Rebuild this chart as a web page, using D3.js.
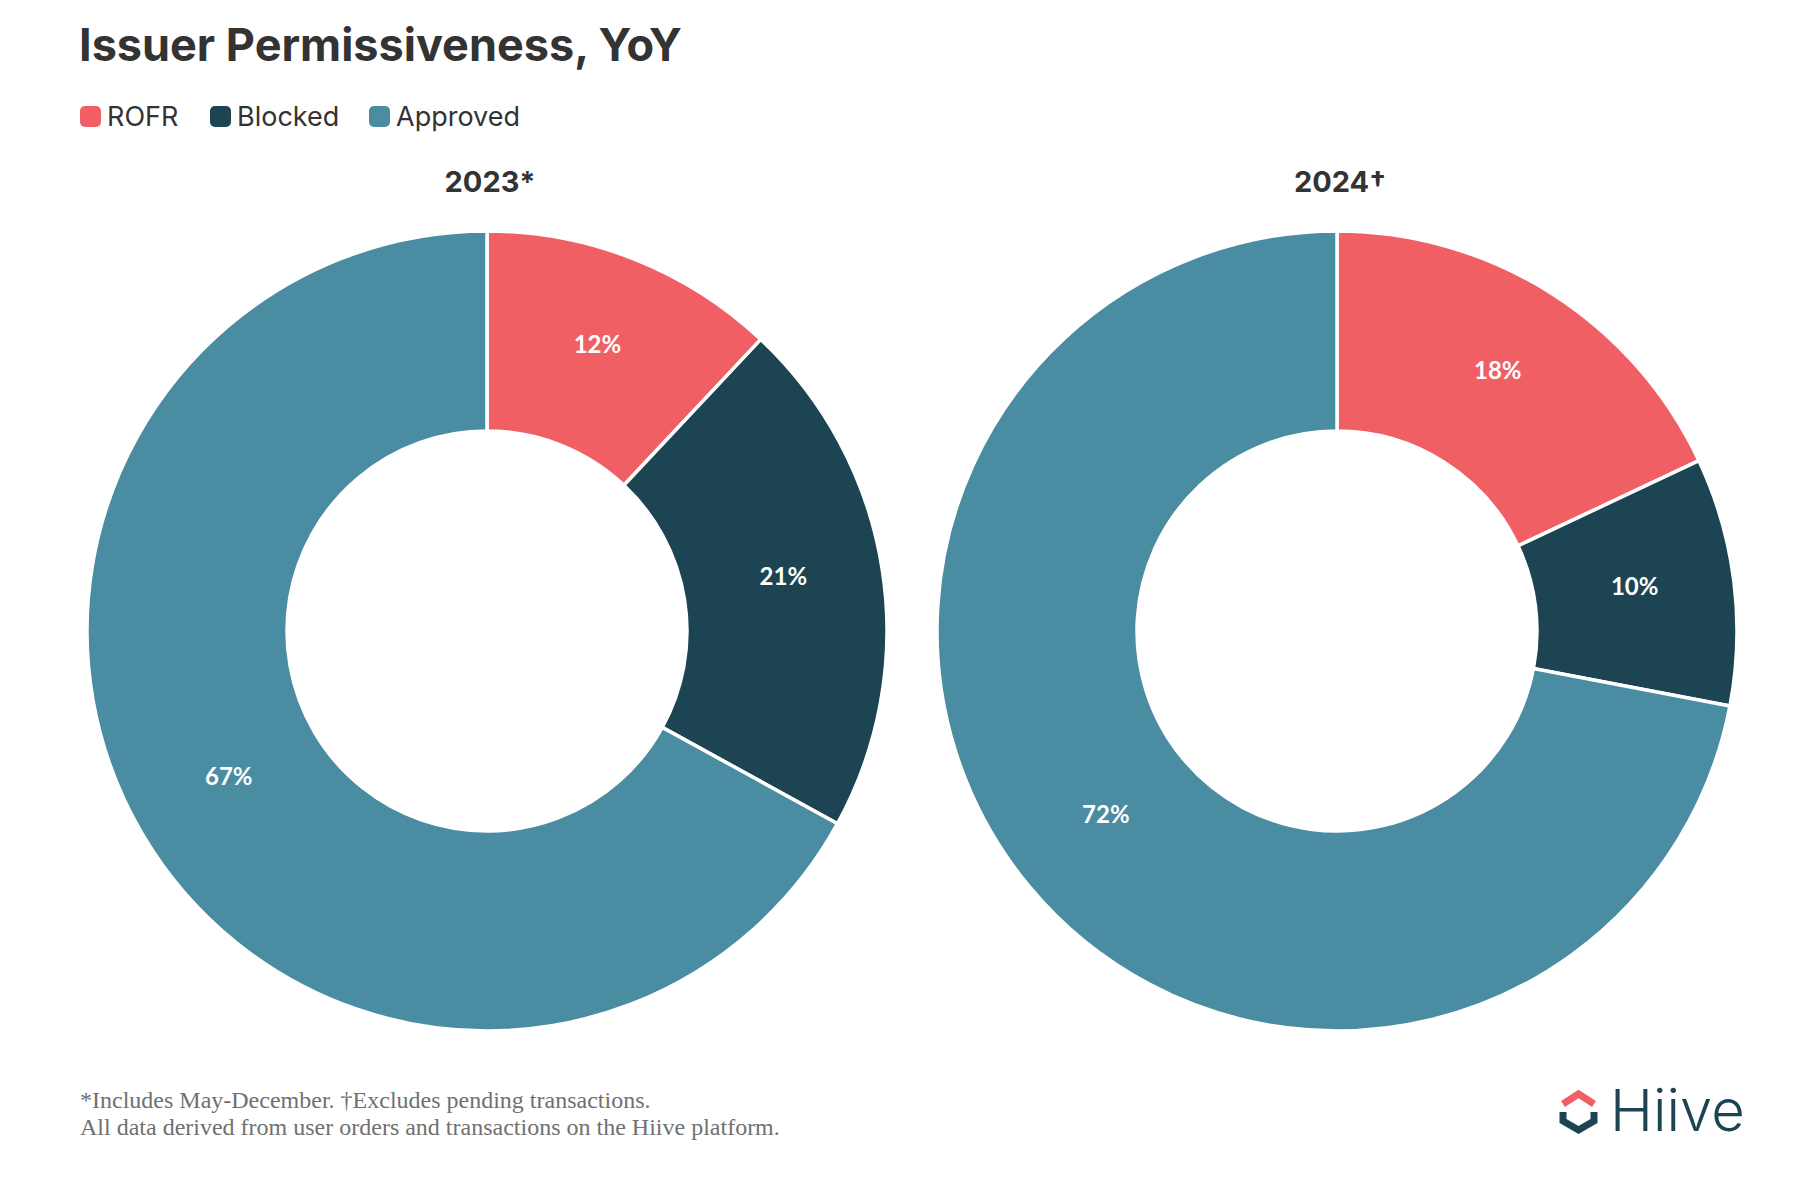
<!DOCTYPE html>
<html>
<head>
<meta charset="utf-8">
<script src="https://cdn.jsdelivr.net/npm/d3@7"></script>
<style>
    body { margin: 0; background: #fff; }
    svg { display: block; }
</style>
</head>
<body>
<div id="chart"></div>
<script>
// data
const categories = ["ROFR", "Blocked", "Approved"];
const colors = ["#ef5f63", "#1c4452", "#4a8ca1"];
const years = ["2023*", "2024\u2020"];
const values2023 = [12, 21, 67];
const values2024 = [18, 10, 72];
const footnotes = [
    "*Includes May-December. \u2020Excludes pending transactions.",
    "All data derived from user orders and transactions on the Hiive platform."
];

const width = 1818, height = 1188;
const svg = d3.select("#chart").append("svg")
    .attr("width", width)
    .attr("height", height);

// title
svg.append("text")
    .attr("x", 79)
    .attr("y", 61)
    .text("Issuer Permissiveness, YoY")
    .style("font-family", "Inter, sans-serif")
    .style("font-weight", "700")
    .style("font-size", "45px")
    .style("fill", "#333");

// legend
let color = d3.scaleOrdinal().domain(categories).range(colors);
let legendX = [80, 210, 369];
let legend = svg.selectAll(".legend")
    .data(categories)
    .enter().append("g")
    .attr("class", "legend")
    .attr("transform", (d, i) => `translate(${legendX[i]}, 106)`);

legend.append("rect")
    .attr("width", 21)
    .attr("height", 21)
    .attr("rx", 5)
    .style("fill", d => color(d));

legend.append("text")
    .attr("x", 27)
    .attr("y", 20)
    .text(d => d)
    .style("font-family", "Inter, sans-serif")
    .style("font-size", "27px")
    .style("fill", "#333");

// donuts
const outerR = 400, innerR = 200;
const centers = [487, 1337];
const centerY = 631;

let pie = d3.pie().sort(null).value(d => d.value);
let arc = d3.arc().innerRadius(innerR).outerRadius(outerR);

[values2023, values2024].forEach((vals, k) => {
    let data = categories.map((c, i) => ({ key: c, value: vals[i] }));
    let g = svg.append("g")
        .attr("transform", `translate(${centers[k]}, ${centerY})`);

    g.append("text")
        .attr("x", 3)
        .attr("y", -439)
        .attr("text-anchor", "middle")
        .text(years[k])
        .style("font-family", "Inter, sans-serif")
        .style("font-weight", "700")
        .style("font-size", "29px")
        .style("fill", "#333");

    g.selectAll(".slice")
        .data(pie(data))
        .enter().append("path")
        .attr("class", "slice")
        .attr("d", arc)
        .style("fill", d => color(d.data.key))
        .style("stroke", "#fff")
        .style("stroke-width", 3.5);

    g.selectAll(".pct")
        .data(pie(data))
        .enter().append("text")
        .attr("class", "pct")
        .attr("transform", d => `translate(${arc.centroid(d)})`)
        .attr("text-anchor", "middle")
        .attr("dy", "0.05em")
        .text(d => d.data.value + "%")
        .style("font-family", "Lato, sans-serif")
        .style("font-weight", "700")
        .style("font-size", "24px")
        .style("fill", "#fff");
});

// footnotes
svg.selectAll(".foot")
    .data(footnotes)
    .enter().append("text")
    .attr("class", "foot")
    .attr("x", 80)
    .attr("y", (d, i) => 1108 + i * 27)
    .text(d => d)
    .style("font-family", "'Liberation Serif', serif")
    .style("font-size", "24px")
    .style("fill", "#707070");

// logo
let logo = svg.append("g").attr("class", "logo");
logo.append("path")
    .attr("d", "M1563,1104 L1578.5,1094 L1594,1104")
    .style("fill", "none")
    .style("stroke", "#ef5f63")
    .style("stroke-width", 7);
logo.append("path")
    .attr("d", "M1563,1112 L1563,1121 L1578.5,1130 L1594,1121 L1594,1112")
    .style("fill", "none")
    .style("stroke", "#1c4452")
    .style("stroke-width", 7);
logo.append("text")
    .attr("x", 1610)
    .attr("y", 1131)
    .text("Hiive")
    .style("font-family", "Inter, sans-serif")
    .style("font-weight", "300")
    .style("font-size", "58px")
    .style("fill", "#1c4452");
</script>
</body>
</html>
